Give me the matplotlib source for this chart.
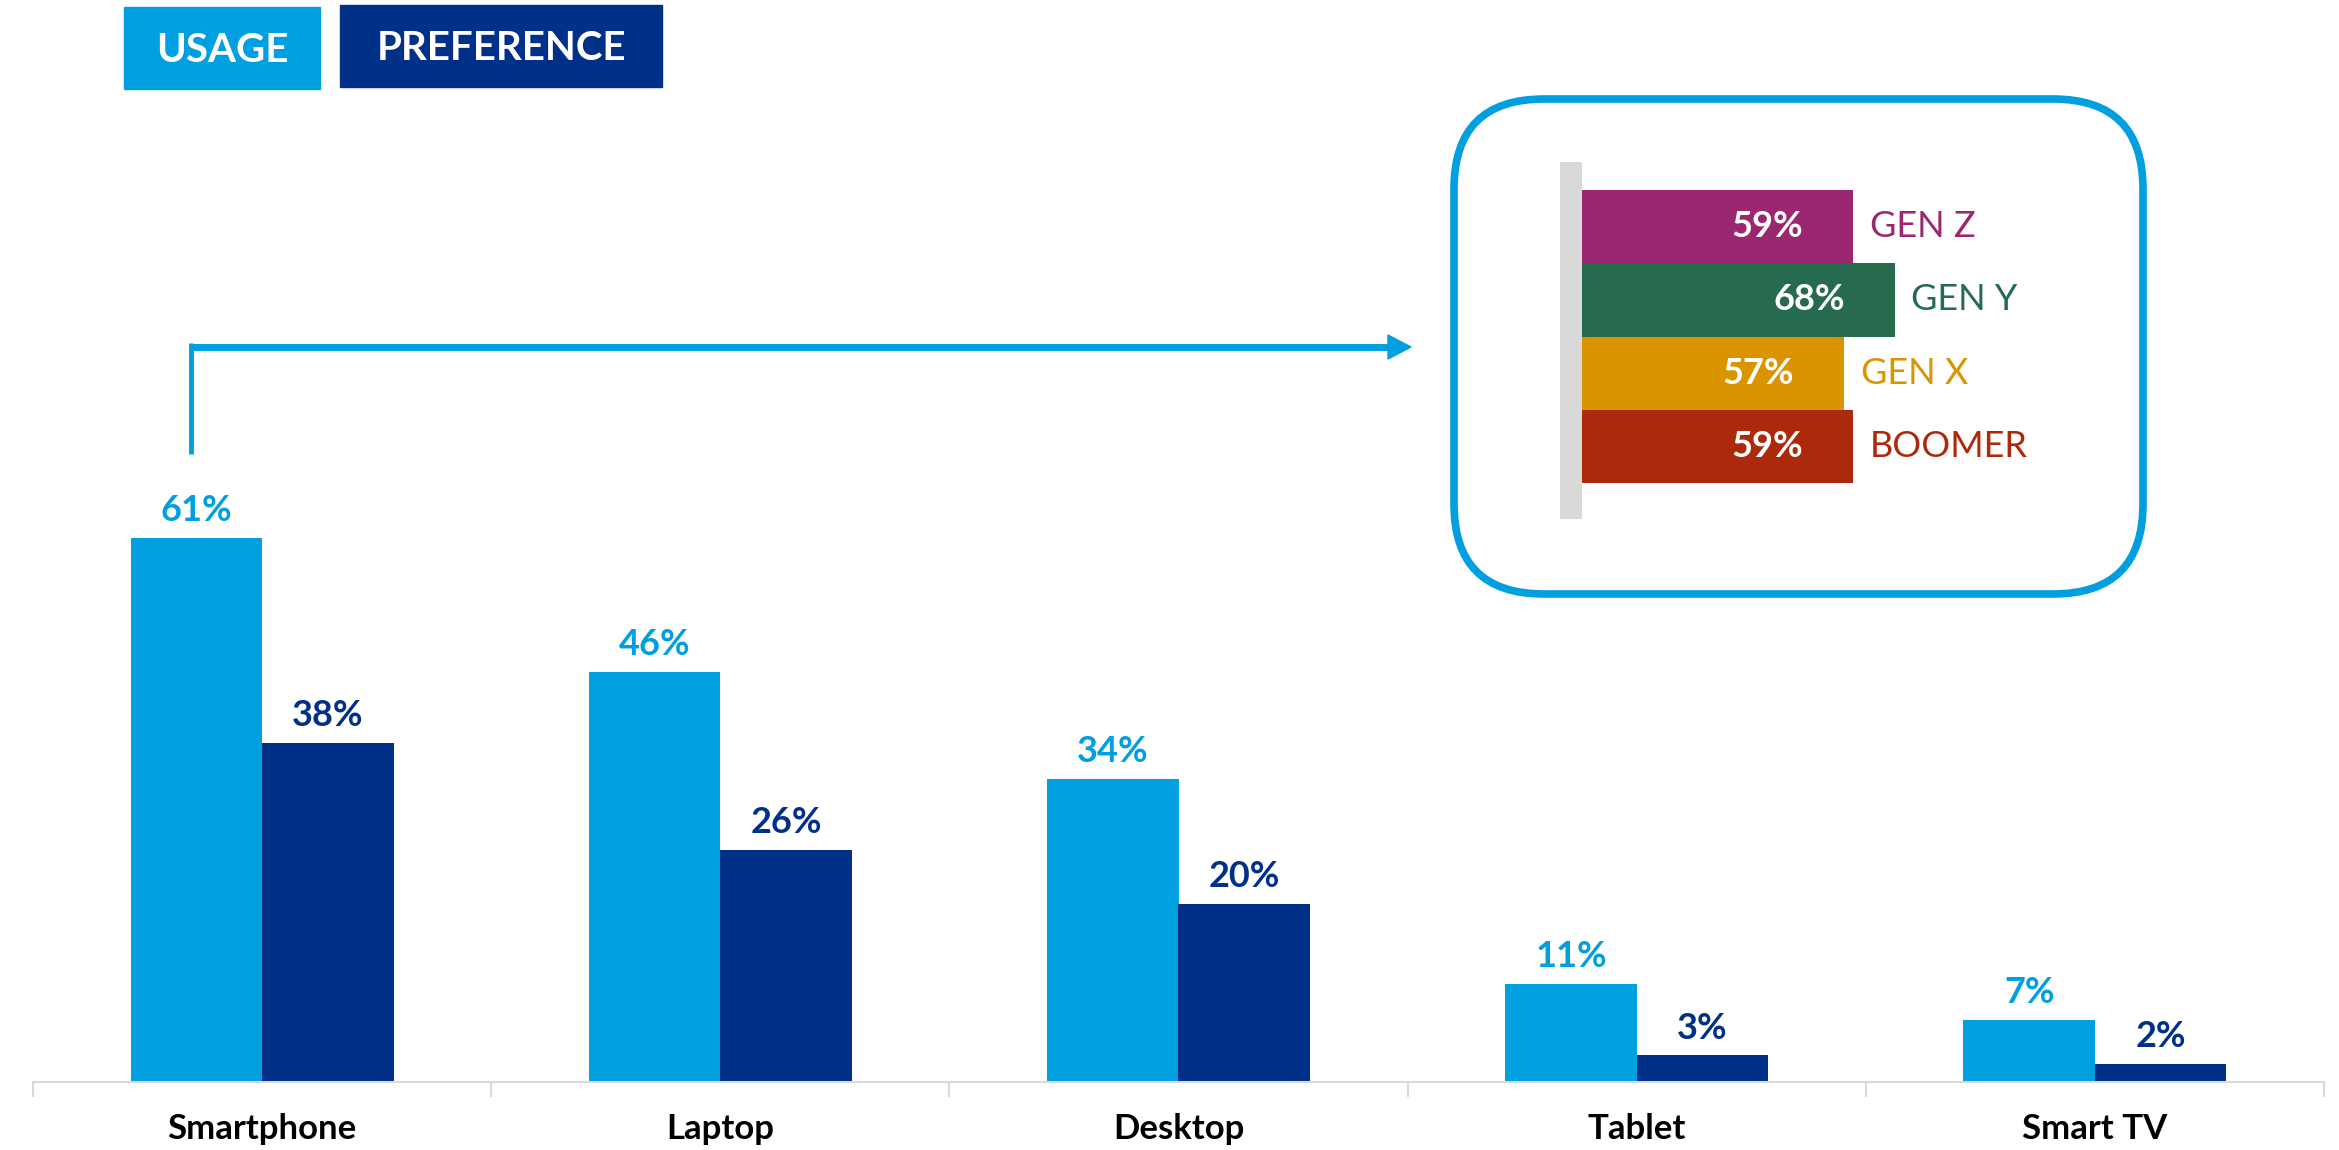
import matplotlib.pyplot as plt
from matplotlib.patches import Rectangle, FancyBboxPatch, Polygon
from matplotlib.lines import Line2D
import numpy as np

plt.rcParams['font.family'] = ['Lato', 'DejaVu Sans']

devices = ['Smartphone', 'Laptop', 'Desktop', 'Tablet', 'Smart TV']
usage = [61, 46, 34, 11, 7]
preference = [38, 26, 20, 3, 2]

generations = ['GEN Z', 'GEN Y', 'GEN X', 'BOOMER']
smartphone_by_gen = [59, 68, 57, 59]

usage_color = '#009FDF'
pref_color = '#003087'
gen_colors = ['#9B2771', '#276B4F', '#D99400', '#AC2A0B']
axis_gray = '#D9D9D9'

W, H = 2339, 1150
fig = plt.figure(figsize=(W / 100, H / 100), dpi=100)


def axes_px(left, top, right, bottom):
    # axes placed by pixel edges measured from the top-left corner
    return fig.add_axes([left / W, 1 - bottom / H, (right - left) / W, (bottom - top) / H])


def inch(x, y):
    return x / 100, (H - y) / 100


# main grouped bars
ax = axes_px(33, 0, 2324, 1082)
x = np.arange(len(devices))
bw = 0.287
b1 = ax.bar(x - bw / 2, usage, bw, color=usage_color)
b2 = ax.bar(x + bw / 2, preference, bw, color=pref_color)
ax.set_xlim(-0.5, len(devices) - 0.5)
ax.set_ylim(0, 1082 / 8.92)

for bars, vals, col in [(b1, usage, usage_color), (b2, preference, pref_color)]:
    for b, v in zip(bars, vals):
        ax.annotate(f'{v}%', (b.get_x() + b.get_width() / 2, v), xytext=(0, 12),
                    textcoords='offset points', ha='center', va='baseline',
                    fontsize=26, fontweight='bold', color=col)

for s in ['top', 'right', 'left']:
    ax.spines[s].set_visible(False)
ax.spines['bottom'].set_color(axis_gray)
ax.spines['bottom'].set_linewidth(1.5)
ax.set_yticks([])
ax.set_xticks(x)
ax.set_xticklabels(devices, fontsize=25, fontweight='bold', color='black')
ax.tick_params(axis='x', which='major', length=0, pad=22)
ax.set_xticks(np.arange(len(devices) + 1) - 0.5, minor=True)
ax.tick_params(axis='x', which='minor', length=11, width=1.5, color=axis_gray)

# legend boxes
for (l, t, r, b), label, col in [((124, 7, 320, 89), 'USAGE', usage_color),
                                 ((340, 5, 662, 87), 'PREFERENCE', pref_color)]:
    fig.patches.append(Rectangle(inch(l, b), (r - l) / 100, (b - t) / 100,
                                 transform=fig.dpi_scale_trans, color=col))
    fig.text(*inch((l + r) / 2, (t + b) / 2 + 2), label, transform=fig.dpi_scale_trans,
             ha='center', va='center', fontsize=29, fontweight='bold', color='white')

# rounded frame around the generation breakdown
fig.patches.append(FancyBboxPatch(inch(1454, 594), 6.89, 4.95,
                                  boxstyle='round,pad=0,rounding_size=0.9',
                                  transform=fig.dpi_scale_trans, fill=False,
                                  edgecolor=usage_color, linewidth=5.5))

# elbow arrow from smartphone to the breakdown
fig.lines.append(Line2D([1.91, 1.91], [(H - 454) / 100, (H - 343) / 100],
                        transform=fig.dpi_scale_trans, color=usage_color, linewidth=3.5,
                        solid_capstyle='butt'))
fig.lines.append(Line2D([1.885, 13.92], [(H - 347) / 100, (H - 347) / 100],
                        transform=fig.dpi_scale_trans, color=usage_color, linewidth=5,
                        solid_capstyle='butt'))
fig.patches.append(Polygon([inch(1388, 335), inch(1411, 347), inch(1388, 359)],
                           closed=True, transform=fig.dpi_scale_trans, color=usage_color))

# horizontal bars by generation
px_per_pct = 4.6
ax2 = axes_px(1560, 162, 2140, 519)
ax2.set_xlim(-22 / px_per_pct, (2140 - 1582) / px_per_pct)
ax2.set_ylim(3.5 + 36 / 73.25, -0.5 - 28 / 73.25)
ax2.axvspan(ax2.get_xlim()[0], 0, color=axis_gray, lw=0)
yy = np.arange(len(generations))
ax2.barh(yy, smartphone_by_gen, height=1.0, color=gen_colors)
for yi, v, name, col in zip(yy, smartphone_by_gen, generations, gen_colors):
    ax2.annotate(f'{v}%', (v, yi), xytext=(-36, 0), textcoords='offset points',
                 ha='right', va='center', fontsize=26, fontweight='bold', color='white')
    ax2.annotate(name, (v, yi), xytext=(12, 0), textcoords='offset points',
                 ha='left', va='center', fontsize=26, color=col)
ax2.axis('off')

fig.savefig('out.png', dpi=100)
